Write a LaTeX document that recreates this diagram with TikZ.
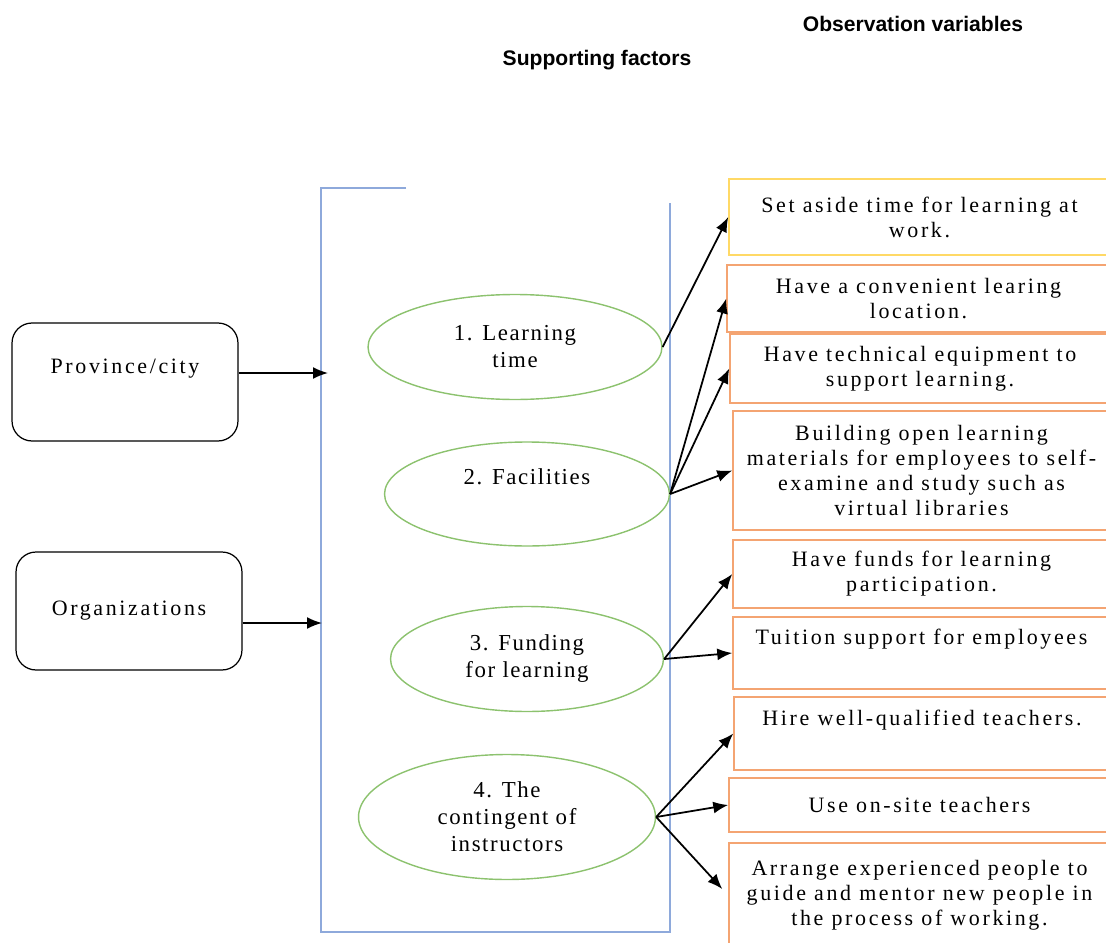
\documentclass[tikz,border=0pt]{standalone}
\usepackage{fontspec}
\usepackage{tikz}
\usetikzlibrary{shapes.geometric,arrows.meta}
\setmainfont{Liberation Serif}
\newfontfamily\boxfont[LetterSpace=12]{Liberation Serif}
\newfontfamily\ovalfont[LetterSpace=7]{Liberation Serif}
\newfontfamily\headfont{Liberation Sans}
\definecolor{brackblue}{HTML}{8EA9DB}
\definecolor{factgreen}{HTML}{8CC26E}
\definecolor{obsorange}{HTML}{F4A472}
\definecolor{obsyellow}{HTML}{FFD966}

\begin{document}
\begin{tikzpicture}[x=0.02cm, y=-0.02cm,
	every node/.style={font=\boxfont\fontsize{12.5}{14.2}\selectfont},
	head/.style={font=\headfont\bfseries\fontsize{12}{14}\selectfont},
	source/.style={draw, rounded corners=0.4cm, line width=0.7pt, minimum width=4.52cm, minimum height=2.36cm, align=center},
	factor/.style={ellipse, draw=factgreen, line width=0.8pt, align=center, inner sep=0pt, font=\ovalfont\fontsize{13}{15.4}\selectfont},
	obs/.style={draw=obsorange, line width=0.9pt, align=center, inner sep=0pt},
	arr/.style={-{Latex[length=3mm,width=2.4mm]}, line width=1pt}]
	\useasboundingbox (0,0) rectangle (1106,943);
	% headings
	\node[head] (obshead) at (913,24) {Observation variables};
	\node[head] (facthead) at (597,60) {Supporting factors};
	% bracket holding the factors
	\draw[brackblue, line width=1.1pt] (406,188) -- (321,188) -- (321,932) -- (670,932) -- (670,203);
	% sources
	\node[source] (prov) at (125,382) {Province/city\\\strut};
	\node[source] (org) at (129,611) {Organizations};
	\coordinate (provin) at (328,373);
	\coordinate (orgin) at (322,623);
	\draw[arr] (prov.east |- provin) -- (provin);
	\draw[arr] (org.east |- orgin) -- (orgin);
	% supporting factors
	\node[factor, minimum width=5.88cm, minimum height=2.1cm] (time) at (515,347) {1. Learning\\time};
	\node[factor, minimum width=5.7cm, minimum height=2.08cm] (facil) at (527,494) {2. Facilities\\\strut};
	\node[factor, minimum width=5.46cm, minimum height=2.1cm] (fund) at (527,659) {3. Funding\\for learning};
	\node[factor, minimum width=5.94cm, minimum height=2.5cm] (instr) at (507,817) {4. The\\contingent of\\instructors};
	% observation variables
	\node[obs, draw=obsyellow, minimum width=7.62cm, minimum height=1.52cm] (b1) at (919.5,217) {Set aside time for learning at\\work.};
	\node[obs, minimum width=7.66cm, minimum height=1.34cm] (b2) at (918.5,298.5) {Have a convenient learing\\location.};
	\node[obs, minimum width=7.6cm, minimum height=1.38cm] (b3) at (920,368.5) {Have technical equipment to\\support learning.};
	\node[obs, minimum width=7.54cm, minimum height=2.38cm] (b4) at (921.5,470.5) {Building open learning\\materials for employees to self-\\examine and study such as\\virtual libraries};
	\node[obs, minimum width=7.54cm, minimum height=1.36cm] (b5) at (921.5,574) {Have funds for learning\\participation.};
	\node[obs, minimum width=7.54cm, minimum height=1.44cm] (b6) at (921.5,653) {Tuition support for employees\\\strut};
	\node[obs, minimum width=7.52cm, minimum height=1.46cm] (b7) at (922,733.5) {Hire well-qualified teachers.\\\strut};
	\node[obs, minimum width=7.62cm, minimum height=1.08cm] (b8) at (919.5,805) {Use on-site teachers};
	\node[obs, minimum width=7.62cm, minimum height=2.1cm] (b9) at (919.5,895.5) {Arrange experienced people to\\guide and mentor new people in\\the process of working.};
	% links
	\draw[arr] (time.east) -- (b1.west);
	\draw[arr] (facil.east) -- (b2.west);
	\draw[arr] (facil.east) -- (b3.west);
	\draw[arr] (facil.east) -- (b4.west);
	\draw[arr] (fund.east) -- (b5.west);
	\draw[arr] (fund.east) -- (b6.west);
	\draw[arr] (instr.east) -- (b7.west);
	\draw[arr] (instr.east) -- (b8.west);
	\draw[arr, shorten >=5pt] (instr.east) -- (b9.west);
\end{tikzpicture}
\end{document}
